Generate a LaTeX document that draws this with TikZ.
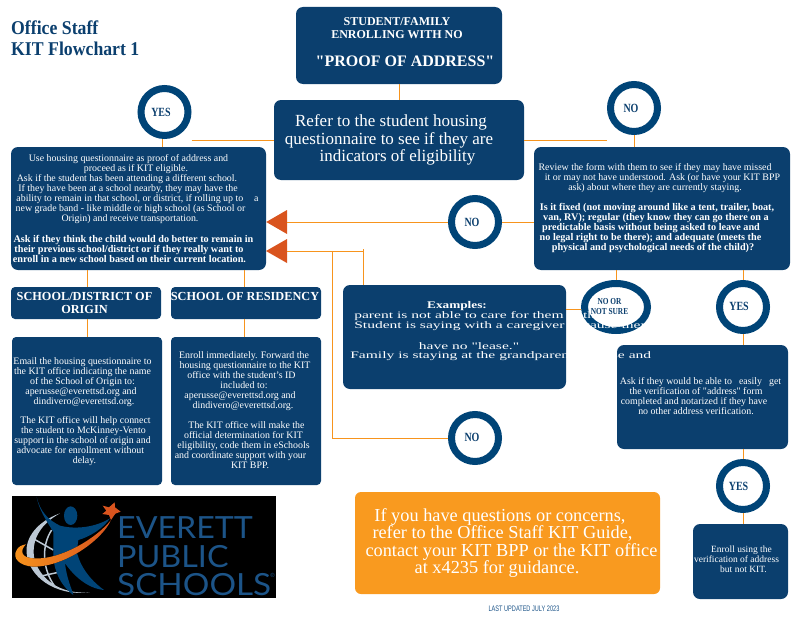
\documentclass[tikz,border=0pt]{standalone}
\usepackage{fontspec}
\setmainfont{Liberation Serif}
\newfontfamily\logofont{Lato}
\newfontfamily\stampfont{Liberation Sans}
\newfontfamily\quotefont{Liberation Serif}
\usetikzlibrary{calc, shapes.geometric}
\newcommand{\straightq}{{\quotefont\symbol{34}}}
\definecolor{kitnavy}{HTML}{0B3F6E}
\definecolor{kitring}{HTML}{004477}
\definecolor{kitline}{HTML}{F7941D}
\definecolor{kitorange}{HTML}{F99A1F}
\definecolor{kitred}{HTML}{D9541E}
\definecolor{logoblue}{HTML}{1C5488}
\definecolor{logogrey}{HTML}{BCC8D4}
\tikzset{
  x=1pt, y=-1pt,
  navybox/.style={fill=kitnavy, rounded corners=7pt, inner sep=0pt},
  ringnode/.style={circle, draw=kitring, line width=7pt, fill=white, minimum size=47pt, inner sep=0pt},
  ringtxt/.style={text=kitnavy, inner sep=0pt, xscale=0.8, transform shape, font=\fontsize{12.5}{12.5}\selectfont\bfseries},
  bodytxt/.style={text=white, align=center, inner sep=0pt, font=\fontsize{9.9}{10}\selectfont},
  boldtxt/.style={bodytxt, font=\fontsize{10.2}{10}\selectfont\bfseries},
  headtxt/.style={bodytxt, font=\fontsize{12.3}{13}\selectfont\bfseries},
  widetxt/.style={bodytxt, anchor=west, xscale=1.57, transform shape},
  logotxt/.style={anchor=base west, inner sep=0pt, text=logoblue, transform shape, font=\logofont\fontsize{30.5}{31}\selectfont},
  linkline/.style={draw=kitline, line width=1pt},
  tipshape/.style={fill=kitred}
}
\begin{document}
\begin{tikzpicture}
    \useasboundingbox (0,0) rectangle (800,618);

    % Title
    \node[anchor=west, inner sep=0pt, text=kitnavy, align=left, xscale=0.91, transform shape, font=\fontsize{19.5}{21}\selectfont\bfseries] (title) at (11,38.5) {Office Staff\\KIT Flowchart 1};

    % Boxes
    \node[navybox, minimum width=206pt, minimum height=77pt] (topbox) at (399,45.5) {};
    \node[navybox, minimum width=250pt, minimum height=80pt] (referbox) at (399,140) {};
    \node[navybox, minimum width=255pt, minimum height=123pt] (leftbox) at (138.5,208.5) {};
    \node[navybox, minimum width=256pt, minimum height=123pt] (rightbox) at (662,208.5) {};
    \node[navybox, rounded corners=4pt, minimum width=150pt, minimum height=32pt] (originhead) at (86,303) {};
    \node[navybox, rounded corners=4pt, minimum width=150pt, minimum height=32pt] (residhead) at (246,303) {};
    \node[navybox, rounded corners=4pt, minimum width=150pt, minimum height=148pt] (originbox) at (87,411) {};
    \node[navybox, rounded corners=4pt, minimum width=150pt, minimum height=148pt] (residbox) at (246,411) {};
    \node[navybox, minimum width=223pt, minimum height=104pt] (examplebox) at (454.5,337) {};
    \node[navybox, minimum width=171pt, minimum height=104pt] (askbox) at (702.5,397) {};
    \node[navybox, minimum width=95pt, minimum height=75pt] (enrollbox) at (740.5,561.5) {};
    \node[navybox, fill=kitorange, rounded corners=6pt, minimum width=305pt, minimum height=102pt] (helpbox) at (507.5,543) {};

    % Circles
    \node[ringnode] (yesa) at (164.5,112) {};
    \node[ringnode] (noa) at (634,108) {};
    \node[ringnode] (nob) at (475,222) {};
    \node[ringnode] (noc) at (475,438) {};
    \node[ringnode, ellipse, minimum width=63pt, minimum height=47pt] (nosure) at (616,307) {};
    \node[ringnode] (yesb) at (743,307) {};
    \node[ringnode] (yesc) at (743,486) {};

    % Arrow tips
    \coordinate (tipa) at (leftbox.east |- nob);
    \coordinate (tipb) at (266,251);
    \coordinate (taila) at (287,222);
    \coordinate (tailb) at (287,251);
    \coordinate (elbowa) at (332,251);
    \coordinate (elbowb) at (363,251);
    \fill[tipshape] (tipa) -- ($(taila)+(0,-12)$) -- ($(taila)+(0,12)$) -- cycle;
    \fill[tipshape] (tipb) -- ($(tailb)+(0,-12)$) -- ($(tailb)+(0,12)$) -- cycle;

    % Connectors
    \draw[linkline] (topbox) -- (referbox);
    \draw[linkline] (yesa.east |- referbox.west) -- (referbox.west);
    \draw[linkline] (referbox.east) -- (noa.west |- referbox.east);
    \draw[linkline] (yesa.south -| 162.5,0) -- (leftbox.north -| 162.5,0);
    \draw[linkline] (noa) -- (noa |- rightbox.north);
    \draw[linkline] (taila) -- (nob);
    \draw[linkline] (nob) -- (nob -| rightbox.west);
    \draw[linkline] (tailb) -- (elbowb);
    \draw[linkline] (elbowb) ++(0,-2) -- (elbowb |- examplebox.north);
    \draw[linkline] (elbowa) -- (elbowa |- noc) -- (noc);
    \draw[linkline] (leftbox.south -| 87.5,0) -- (originhead.north -| 87.5,0);
    \draw[linkline] (leftbox.south -| 244.5,0) -- (residhead.north -| 244.5,0);
    \draw[linkline] (originhead.south -| 87.5,0) -- (originbox.north -| 87.5,0);
    \draw[linkline] (residhead.south -| 244.5,0) -- (residbox.north -| 244.5,0);
    \draw[linkline] (examplebox.east |- 0,309) -- (nosure.west |- 0,309);
    \draw[linkline] (rightbox.south -| nosure) -- (nosure);
    \draw[linkline] (rightbox.south -| yesb) -- (yesb);
    \draw[linkline] (yesb) -- (yesb |- askbox.north);
    \draw[linkline] (askbox.south -| yesc) -- (yesc);
    \draw[linkline] (yesc) -- (yesc |- enrollbox.north);

    % Box texts
    \node[headtxt, font=\fontsize{12}{13}\selectfont\bfseries] (toptxta) at (397,28) {STUDENT/FAMILY\\ENROLLING WITH NO};
    \node[bodytxt, font=\fontsize{16}{16}\selectfont\bfseries] (toptxtb) at (405,61) {\straightq PROOF OF ADDRESS\straightq};
    \node[bodytxt, font=\fontsize{17}{17.5}\selectfont] (refertxt) at (389,140) {\hspace*{4pt}Refer to the student housing\\questionnaire to see if they are\\\hspace*{17pt}indicators of eligibility};
    \node[bodytxt] (lefttxta) at (137.5,189.5) {\hspace*{-18pt}Use housing questionnaire as proof of address and\\\hspace*{-3pt}proceed as if KIT eligible.\\\hspace*{-21pt}Ask if the student has been attending a different school.\\\hspace*{-19pt}If they have been at a school nearby, they may have the\\ability to remain in that school, or district, if rolling up to \hspace{6pt} a\\\hspace*{-14pt}new grade band - like middle or high school (as School or\\\hspace*{-15pt}Origin) and receive transportation.};
    \node[boldtxt] (lefttxtb) at (133.5,248.5) {Ask if they think the child would do better to remain in\\\hspace*{-9pt}their previous school/district or if they really want to\\\hspace*{-8pt}enroll in a new school based on their current location.};
    \node[bodytxt] (righttxta) at (662.5,178.5) {\hspace*{-15pt}Review the form with them to see if they may have missed\\it or may not have understood. Ask (or have your KIT BPP\\\hspace*{-15pt}ask) about where they are currently staying.};
    \node[boldtxt] (righttxtb) at (657,228) {Is it fixed (not moving around like a tent, trailer, boat,\\\hspace*{-2pt}van, RV); regular (they know they can go there on a\\\hspace*{-12pt}predictable basis without being asked to leave and\\\hspace*{-13pt}no legal right to be there); and adequate (meets the\\\hspace*{-8pt}physical and psychological needs of the child)?};
    \node[headtxt] (originheadtxt) at (84.5,303) {SCHOOL/DISTRICT OF\\ORIGIN};
    \node[headtxt] (residheadtxt) at (245,296.5) {SCHOOL OF RESIDENCY};
    \node[bodytxt] (origintxta) at (82.5,382) {Email the housing questionnaire to\\the KIT office indicating the name\\of the School of Origin to:\\\hspace*{-3pt}aperusse@everettsd.org and\\\hspace*{3pt}dindivero@everettsd.org.};
    \node[bodytxt] (origintxtb) at (82.5,441) {\hspace*{6pt}The KIT office will help connect\\\hspace*{2pt}the student to McKinney-Vento\\support in the school of origin and\\\hspace*{-4pt}advocate for enrollment without\\\hspace*{4pt}delay.};
    \node[bodytxt] (residtxta) at (245,381.5) {\hspace*{-2pt}Enroll immediately. Forward the\\housing questionnaire to the KIT\\\hspace*{-7pt}office with the student's ID\\\hspace*{-2pt}included to:\\\hspace*{-10pt}aperusse@everettsd.org and\\\hspace*{-4pt}dindivero@everettsd.org.};
    \node[bodytxt] (residtxtb) at (243.5,445.5) {\hspace*{6pt}The KIT office will make the\\official determination for KIT\\eligibility, code them in eSchools\\\hspace*{-6pt}and coordinate support with your\\\hspace*{13pt}KIT BPP.};
    \node[bodytxt] (asktxt) at (700.5,396.5) {Ask if they would be able to \hspace{2pt} easily \hspace{2pt} get\\\hspace*{-9pt}the verification of \straightq address\straightq{} form\\\hspace*{-13pt}completed and notarized if they have\\\hspace*{-9pt}no other address verification.};
    \node[bodytxt, font=\fontsize{9.5}{10}\selectfont] (enrolltxt) at (736.5,559) {\hspace*{10pt}Enroll using the\\verification of address\\\hspace*{14pt}but not KIT.};
    \node[bodytxt, font=\fontsize{18.3}{17.5}\selectfont] (helptxt) at (511.5,543) {\hspace*{-23pt}If you have questions or concerns,\\\hspace*{-18pt}refer to the Office Staff KIT Guide,\\contact your KIT BPP or the KIT office\\\hspace*{-29pt}at x4235 for guidance.};

    % Examples text runs over the circle
    \node[boldtxt, xscale=1.3, transform shape] (exampletitle) at (457,306.5) {Examples:};
    \node[widetxt] (exampleb) at (354,316.5) {parent is not able to care for them with};
    \node[widetxt] (examplec) at (354,326.5) {Student is saying with a caregiver because they};
    \node[widetxt, anchor=center] (exampled) at (469,346.5) {have no \straightq lease.\straightq};
    \node[widetxt] (examplee) at (350,356.5) {Family is staying at the grandparents' house and};

    % Circle labels
    \node[ringtxt] (yesatxt) at (161,112) {YES};
    \node[ringtxt] (noatxt) at (631,108.5) {NO};
    \node[ringtxt] (nobtxt) at (472,222) {NO};
    \node[ringtxt] (noctxt) at (472,437) {NO};
    \node[ringtxt] (yesbtxt) at (739,306.5) {YES};
    \node[ringtxt] (yesctxt) at (738.5,486) {YES};
    \node[ringtxt, align=center, font=\fontsize{9.2}{9.5}\selectfont\bfseries] (nosuretxt) at (609.5,306.5) {NO OR\\NOT SURE};

    % Logo
    \fill[black] (12,496) rectangle (276,598);
    \begin{scope}[shift={(10,495)}, x=0.3333pt, y=-0.3333pt]
      \fill[logogrey] (150,55) .. controls (80,80) and (45,130) .. (50,175) .. controls (55,240) and (130,305) .. (240,292) .. controls (150,300) and (85,250) .. (72,185) .. controls (65,130) and (95,85) .. (150,55) -- cycle;
      \draw[logogrey, line width=1.5pt] (125,105) .. controls (95,150) and (95,220) .. (135,275);
      \draw[logogrey, line width=1.5pt] (68,130) -- (130,165);
      \draw[logogrey, line width=1.5pt] (85,245) -- (145,232);
      \fill[kitring] (80,5) .. controls (90,50) and (115,75) .. (150,92) .. controls (200,105) and (260,95) .. (300,70) .. controls (280,100) and (240,125) .. (205,135) -- (200,170) .. controls (205,190) and (220,240) .. (282,285) .. controls (230,280) and (190,240) .. (165,205) .. controls (170,250) and (185,280) .. (190,300) .. controls (150,270) and (135,230) .. (130,190) -- (130,110) .. controls (110,80) and (85,40) .. (80,5) -- cycle;
      \fill[kitring] (182,62) ellipse (20 and 28);
      \fill[left color=kitline, right color=kitred] (303,75) .. controls (280,130) and (170,215) .. (70,215) .. controls (30,213) and (5,190) .. (20,165) .. controls (25,155) and (35,150) .. (48,148) .. controls (30,165) and (30,190) .. (75,190) .. controls (150,195) and (260,130) .. (303,75) -- cycle;
      \fill[kitred] (314,22) -- (315,37) -- (332,50) -- (316,56) -- (303,75) -- (297,60) -- (277,57) -- (289,47) -- (278,32) -- (297,37) -- cycle;
    \end{scope}
    \node[logotxt, xscale=1.055] (logoa) at (117,538) {EVERETT};
    \node[logotxt, xscale=1.06] (logob) at (117,567) {PUBLIC};
    \node[logotxt, xscale=1.09] (logoc) at (117,595) {SCHOOLS};
    \node[inner sep=0pt, text=logoblue, font=\stampfont\fontsize{6}{6}\selectfont] (logod) at (272.5,575) {®};

    % Footer
    \node[inner sep=0pt, text=logoblue, xscale=0.7, transform shape, font=\stampfont\fontsize{8}{8}\selectfont] (stamp) at (524,609) {LAST UPDATED JULY 2023};
\end{tikzpicture}
\end{document}
